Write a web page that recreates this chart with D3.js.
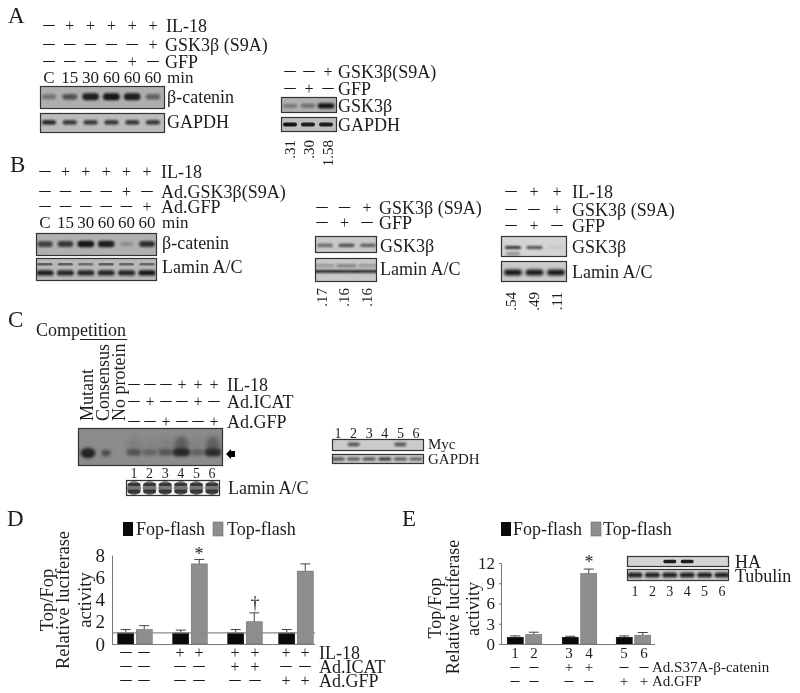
<!DOCTYPE html>
<html><head><meta charset="utf-8">
<script src="https://cdn.jsdelivr.net/npm/d3@7/dist/d3.min.js"></script>
<style>html,body{margin:0;padding:0;background:#fff}svg{display:block;filter:blur(.35px)}text{font-family:"Liberation Serif","Times New Roman",serif;fill:#1c1c1c}</style>
</head><body><svg id="fig" width="800" height="693"></svg>
<script>
// ---------- DATA ----------
const aIL18=[0,1,1,1,1,1], aGSK=[0,0,0,0,0,1], aGFP=[0,0,0,0,1,0];
const timeLabels=["C","15","30","60","60","60"];
const aCatenin=[.4,.6,.95,1,.95,.5], aGapdh=[.95,.85,.85,.85,.85,.85];
const a2GSKsign=[0,0,1], a2GFPsign=[0,1,0];
const a2GSK=[.4,.45,1], a2Gapdh=[1,.95,.95], a2Ratio=[".31",".30","1.58"];
const bIL18=[0,1,1,1,1,1], bGSK=[0,0,0,0,1,0], bGFP=[0,0,0,0,0,1];
const bCatenin=[.7,.75,1,.95,.2,.8], bLaminUp=[.55,.55,.45,.55,.5,.5], bLaminLow=[.95,.9,.9,.9,.9,1];
const b2GSKsign=[0,0,1], b2GFPsign=[0,1,0];
const b2GSK=[.55,.7,.6], b2LaminUp=[.3,.45,.3], b2LaminLow=[.95,.95,.95], b2Ratio=[".17",".16",".16"];
const b3IL18=[0,1,1], b3GSKsign=[0,0,1], b3GFPsign=[0,1,0];
const b3GSK=[.85,.7,.06], b3GSKlow=[.4,0,0], b3Lamin=[1,1,1], b3Ratio=[".54",".49",".11"];
const compLabels=["Mutant","Consensus","No protein"];
const cIL18=[0,0,0,1,1,1], cICAT=[0,1,0,0,1,0], cGFP=[0,0,1,0,0,1];
const cCompShift=[.95,.6,0], cShift=[.55,.4,.5,1,.4,.95], cLamin=[.7,.7,.7,.7,.7,.7];
const laneNumbers=["1","2","3","4","5","6"];
const mycBand=[0,.65,0,0,.65,0], mycGapdh=[.7,.65,.7,.85,.65,.6];
const seriesNames=["Fop-flash","Top-flash"];
const dFop=[1,1,1,1], dTop=[1.3,7.2,2,6.55], dFopErr=[.3,.25,.3,.3], dTopErr=[.35,.4,.8,.65];
const dTicks=[0,2,4,6,8];
const dIL18=[0,0,1,1,1,1,1,1], dICAT=[0,0,0,0,1,1,0,0], dGFP=[0,0,0,0,0,0,1,1];
const eFop=[1,1,1], eTop=[1.4,10.45,1.3], eFopErr=[.2,.15,.2], eTopErr=[.35,.65,.4];
const eTicks=[0,3,6,9,12];
const eS37A=[0,0,1,1,0,0], eGFP=[0,0,0,0,1,1];
const eHA=[0,0,.95,.95,0,0], eTubulin=[.95,.95,.95,.95,.95,.95];
const panelLetters=["A","B","C","D","E"];

// ---------- HELPERS ----------
const svg=d3.select("#fig"), defs=svg.append("defs");
let clipId=0; const blurs=new Set();
function blurFilter(b){const id="blur"+String(b).replace(".","_");
  if(!blurs.has(b)){blurs.add(b);
    defs.append("filter").attr("id",id).attr("x","-50%").attr("y","-80%").attr("width","200%").attr("height","260%")
      .append("feGaussianBlur").attr("stdDeviation",b);}
  return "url(#"+id+")";}
function txt(x,y,s,size=18,opt={}){
  const e=svg.append("text").attr("x",x).attr("y",y).attr("dy",opt.dy??"0.33em").attr("font-size",size).text(s);
  if(opt.anchor)e.attr("text-anchor",opt.anchor);
  if(opt.rot)e.attr("transform",`rotate(-90 ${x} ${y})`);
  return e;}
const lane=(n,a,b)=>d3.scalePoint().domain(d3.range(n)).range([a,b]);
function cellRow(x,vals,y,size,fmt){
  svg.append("g").selectAll("text").data(vals).join("text")
    .attr("x",(d,i)=>x(i)).attr("y",y).attr("dy","0.33em").attr("text-anchor","middle")
    .attr("font-size",size).text(fmt);}
function signRow(x,vals,y,label,lx,size=18){
  const dash=size>=18?11:8.5, plus=size>=18?16:15;
  svg.append("g").selectAll("text").data(vals).join("text")
    .attr("x",(d,i)=>x(i)).attr("y",y).attr("dy",d=>d?"0.33em":"0.2em").attr("text-anchor","middle")
    .attr("font-size",d=>d?plus:dash)
    .attr("stroke",d=>d?"none":"#1c1c1c").attr("stroke-width",.35)
    .text(d=>d?"+":"\u2014");
  if(label)txt(lx,y,label,size);}
function ratios(x,vals,y,size=15){
  svg.append("g").selectAll("text").data(vals).join("text")
    .attr("transform",(d,i)=>`translate(${x(i)},${y}) rotate(-90)`)
    .attr("dy","0.33em").attr("text-anchor","end").attr("font-size",size).text(d=>d);}
function blot(b,x,rows){
  const id="clip"+(clipId++);
  defs.append("clipPath").attr("id",id).append("rect").attr("x",b.x).attr("y",b.y).attr("width",b.w).attr("height",b.h);
  const g=svg.append("g");
  g.append("rect").attr("x",b.x).attr("y",b.y).attr("width",b.w).attr("height",b.h).attr("fill",b.bg);
  const inner=g.append("g").attr("clip-path",`url(#${id})`);
  rows.forEach(r=>{
    const W=d=>r.rx*(r.grow?0.75+0.3*d:1), H=d=>r.ry*(r.grow?0.6+0.5*d:1);
    inner.append("g").attr("filter",blurFilter(r.blur??1.2)).selectAll("rect").data(r.vals).join("rect")
      .attr("x",(d,i)=>x(i)+(r.dx??0)-W(d)).attr("y",d=>b.y+b.h*r.at-H(d))
      .attr("width",d=>2*W(d)).attr("height",d=>2*H(d))
      .attr("rx",d=>Math.min(W(d),H(d))).attr("ry",d=>H(d))
      .attr("fill",r.color??"#141414").attr("opacity",d=>d);
  });
  g.append("rect").attr("x",b.x+.5).attr("y",b.y+.5).attr("width",b.w-1).attr("height",b.h-1)
    .attr("fill","none").attr("stroke",b.stroke??"#333").attr("stroke-width",1.2);
}
function barChart(c){
  const y=d3.scaleLinear().domain(c.domain).range([c.y0,c.y1]);
  const g=svg.append("g");
  const xOf=(gi,s)=>c.centers(gi)+(s?1:-1)*(c.bw/2+c.gap/2);
  [[c.fop,c.fopErr,0,"#0a0a0a","#0a0a0a"],[c.top,c.topErr,1,"#8e8e8e","#6c6c6c"]].forEach(([v,e,s,fill,stroke])=>{
    const rows=v.map((d,i)=>({d,e:e[i],i}));
    const gs=g.append("g").selectAll("g").data(rows).join("g");
    gs.append("line").attr("x1",r=>xOf(r.i,s)).attr("x2",r=>xOf(r.i,s)).attr("y1",r=>y(r.d)).attr("y2",r=>y(r.d+r.e)).attr("stroke","#444");
    gs.append("line").attr("x1",r=>xOf(r.i,s)-5).attr("x2",r=>xOf(r.i,s)+5).attr("y1",r=>y(r.d+r.e)).attr("y2",r=>y(r.d+r.e)).attr("stroke","#444");
    gs.append("rect").attr("x",r=>xOf(r.i,s)-c.bw/2).attr("width",c.bw).attr("y",r=>y(r.d)).attr("height",r=>y(0)-y(r.d))
      .attr("fill",fill).attr("stroke",stroke).attr("stroke-width",.6);
  });
  if(c.refLine){g.append("line").attr("x1",c.x0).attr("x2",c.x1).attr("y1",y(1)).attr("y2",y(1)).attr("stroke","#8a8a8a").attr("stroke-width",1.3);}
  const ax=g.append("g").attr("transform",`translate(${c.x0},0)`).call(d3.axisLeft(y).tickValues(c.ticks).tickSize(c.tick).tickFormat(d3.format("d")));
  ax.selectAll("path,line").attr("stroke","#777");
  ax.selectAll("text").attr("font-size",c.tickFont).attr("x",c.tickX).attr("fill","#1c1c1c").attr("font-family","Liberation Serif");
  g.append("line").attr("x1",c.x0).attr("x2",c.x1).attr("y1",y(0)+.5).attr("y2",y(0)+.5).attr("stroke","#777");
  return {y,xOf};
}
function legend(bx1,tx1,bx2,tx2,yc,size=18){
  svg.append("rect").attr("x",bx1).attr("y",yc-7).attr("width",10).attr("height",14).attr("fill","#0a0a0a");
  txt(tx1,yc,seriesNames[0],size);
  svg.append("rect").attr("x",bx2).attr("y",yc-7).attr("width",10).attr("height",14).attr("fill","#8e8e8e").attr("stroke","#6c6c6c").attr("stroke-width",.6);
  txt(tx2,yc,seriesNames[1],size);
}

// ---------- PANEL LETTERS ----------
[[8,23],[10,172],[8,327],[7,526],[402,526]].forEach((p,i)=>txt(p[0],p[1],panelLetters[i],23,{dy:0}));

// ---------- A ----------
let x=lane(6,49,153);
signRow(x,aIL18,26,"IL-18",166);
signRow(x,aGSK,45,"GSK3\u03B2 (S9A)",165);
signRow(x,aGFP,62,"GFP",165);
cellRow(x,timeLabels,77,17,d=>d); txt(167,77,"min",17);
blot({x:40,y:86,w:125,h:23,bg:"#aeaeae"},x,[{vals:aCatenin,at:.47,rx:8,ry:3.2,grow:1,blur:1.2}]);
blot({x:40,y:113,w:125,h:20,bg:"#bcbcbc"},x,[{vals:aGapdh,at:.47,rx:7,ry:2.2,blur:.8}]);
txt(167,97,"\u03B2-catenin",18); txt(167,122,"GAPDH",18);
x=lane(3,290,328);
signRow(x,a2GSKsign,72,"GSK3\u03B2(S9A)",338);
signRow(x,a2GFPsign,89,"GFP",338);
const xa2=lane(3,290,326);
blot({x:281,y:97,w:56,h:16,bg:"#b0b0b0"},xa2,[{vals:a2GSK,at:.55,rx:8,ry:2.4,grow:1,blur:1}]);
blot({x:281,y:117,w:56,h:15,bg:"#bcbcbc"},xa2,[{vals:a2Gapdh,at:.5,rx:7,ry:2,blur:.7}]);
txt(338,106,"GSK3\u03B2",18); txt(338,125,"GAPDH",18);
ratios(x,a2Ratio,140);

// ---------- B ----------
x=lane(6,45,147);
signRow(x,bIL18,172,"IL-18",161);
signRow(x,bGSK,192,"Ad.GSK3\u03B2(S9A)",161);
signRow(x,bGFP,207,"Ad.GFP",161);
cellRow(x,timeLabels,222,17,d=>d); txt(162,222,"min",17);
blot({x:36,y:233,w:121,h:23,bg:"#b0b0b0"},x,[{vals:bCatenin,at:.48,rx:8,ry:3,grow:1,blur:1.2}]);
blot({x:36,y:258,w:121,h:23,bg:"#b8b8b8"},x,[{vals:bLaminUp,at:.27,rx:7.5,ry:1.3,blur:.7},{vals:bLaminLow,at:.65,rx:8.5,ry:2.6,blur:.9}]);
txt(162,243,"\u03B2-catenin",18); txt(162,267,"Lamin A/C",18);
x=lane(3,322,367);
signRow(x,b2GSKsign,208,"GSK3\u03B2 (S9A)",379);
signRow(x,b2GFPsign,223,"GFP",379);
const xb2=lane(3,325,368);
blot({x:315,y:236,w:62,h:17,bg:"#c9c9c9"},xb2,[{vals:b2GSK,at:.55,rx:8,ry:1.6,blur:1}]);
blot({x:315,y:258,w:62,h:24,bg:"#c8c8c8"},xb2,[{vals:b2LaminUp,at:.32,rx:10,ry:1.5,blur:1.2},{vals:b2LaminLow,at:.56,rx:12,ry:1.4,blur:.8}]);
txt(380,246,"GSK3\u03B2",18); txt(380,269,"Lamin A/C",18);
ratios(x,b2Ratio,288);
x=lane(3,511,557);
signRow(x,b3IL18,192,"IL-18",572);
signRow(x,b3GSKsign,210,"GSK3\u03B2 (S9A)",572);
signRow(x,b3GFPsign,226,"GFP",572);
const xb3=lane(3,513,556);
blot({x:501,y:236,w:66,h:21,bg:"#d4d4d4"},xb3,[{vals:b3GSK,at:.55,rx:8,ry:1.5,blur:1},{vals:b3GSKlow,at:.85,rx:7,ry:1.5,blur:1}]);
blot({x:501,y:261,w:66,h:21,bg:"#cacaca"},xb3,[{vals:b3Lamin,at:.55,rx:9,ry:3,blur:1.4}]);
txt(572,247,"GSK3\u03B2",18); txt(572,272,"Lamin A/C",18);
ratios(x,b3Ratio,292);

// ---------- C ----------
txt(36,336,"Competition",18,{dy:0});
svg.append("line").attr("x1",80).attr("x2",127).attr("y1",339.5).attr("y2",339.5).attr("stroke","#222");
const xc0=lane(3,87,119);
svg.append("g").selectAll("text").data(compLabels).join("text")
  .attr("transform",(d,i)=>`translate(${xc0(i)},421) rotate(-90)`).attr("dy","0.33em").attr("font-size",18).text(d=>d);
x=lane(6,134,214);
signRow(x,cIL18,385,"IL-18",227);
signRow(x,cICAT,402,"Ad.ICAT",227);
signRow(x,cGFP,422,"Ad.GFP",227);
const gelB={x:78,y:428,w:145,h:38,bg:"#8c8c8c"};
const xcShift=lane(6,134,213);
blot(gelB,xcShift,[
  {vals:cShift.map(d=>d>.9?d*.5:d*.25),at:.45,rx:7,ry:9,blur:2.5,color:"#2a2a2a"},
  {vals:cShift,at:.64,rx:8,ry:3.6,grow:1,blur:1.6,color:"#262626"}]);
const xc1=lane(3,88,124);
const compG=svg.append("g").attr("filter",blurFilter(1.8));
compG.selectAll("ellipse").data(cCompShift).join("ellipse")
  .attr("cx",(d,i)=>xc1(i)).attr("cy",453).attr("rx",d=>8*d).attr("ry",d=>5.5*d).attr("fill","#202020").attr("opacity",d=>d);
svg.append("path").attr("d",d3.line()([[226,454],[231,449],[231,451],[235,451],[235,457],[231,457],[231,459]])+"Z").attr("fill","#000");
const xcn=lane(6,134,212);
cellRow(xcn,laneNumbers,473,14,d=>d);
blot({x:126,y:480,w:94,h:16,bg:"#f2f2f2"},xcn,[
  {vals:cLamin,at:.5,rx:7,ry:7,blur:.4,color:"#444"},
  {vals:cLamin,at:.28,rx:6.5,ry:1.5,blur:.7,color:"#1a1a1a"},
  {vals:cLamin,at:.72,rx:6.5,ry:2,blur:.7,color:"#1a1a1a"}]);
txt(228,488,"Lamin A/C",18);

// ---------- Myc ----------
x=lane(6,338,416);
cellRow(x,laneNumbers,433,14,d=>d);
blot({x:332,y:439,w:92,h:12,bg:"#cbcbcb"},x,[{vals:mycBand,at:.45,rx:6,ry:1.8,blur:1}]);
blot({x:332,y:454,w:92,h:10,bg:"#c8c8c8"},x,[{vals:mycGapdh,at:.5,rx:6.5,ry:1.6,blur:.9}]);
txt(428,444,"Myc",15); txt(428,459,"GAPDH",15);

// ---------- D ----------
legend(123,136,213,227,529);
const dc=d3.scaleOrdinal([0,1,2,3],[135,190,245,296]);
barChart({domain:[0,8],y0:644,y1:555,x0:112,x1:315,fop:dFop,top:dTop,fopErr:dFopErr,topErr:dTopErr,centers:dc,bw:16,gap:2.5,ticks:dTicks,tick:0,tickFont:19,tickX:-7,refLine:true});
[[47,"Top/Fop"],[63,"Relative luciferase"],[85,"activity"]].forEach(p=>txt(p[0],600,p[1],18.5,{rot:1,anchor:"middle"}));
txt(199,554,"*",18,{anchor:"middle"}); txt(255,603,"\u2020",18,{anchor:"middle"});
const xd=d3.scaleOrdinal(d3.range(8),[126,144,180,199,235,255,286,305]);
signRow(xd,dIL18,653,"IL-18",319);
signRow(xd,dICAT,667,"Ad.ICAT",319);
signRow(xd,dGFP,681,"Ad.GFP",319);

// ---------- E ----------
legend(501,513,591,603,529);
const ec=d3.scaleOrdinal([0,1,2],[524.5,579.5,633.5]);
barChart({domain:[0,12],y0:644,y1:563,x0:501,x1:655,fop:eFop,top:eTop,fopErr:eFopErr,topErr:eTopErr,centers:ec,bw:16,gap:2.5,ticks:eTicks,tick:2,tickFont:17,tickX:-6});
[[435,608,"Top/Fop"],[453,607,"Relative luciferase"],[473,609,"activity"]].forEach(p=>txt(p[0],p[1],p[2],18,{rot:1,anchor:"middle"}));
txt(589,562,"*",18,{anchor:"middle"});
const xe=d3.scaleOrdinal(d3.range(6),[515,534,569,589,624,644]);
cellRow(xe,laneNumbers,653,15,d=>d);
signRow(xe,eS37A,667,"Ad.S37A-\u03B2-catenin",652,15);
signRow(xe,eGFP,681,"Ad.GFP",652,15);
const xi=lane(6,635,722);
blot({x:627,y:556,w:102,h:11,bg:"#d4d4d4"},xi,[{vals:eHA,at:.5,rx:6.5,ry:1.7,blur:.6}]);
blot({x:627,y:569,w:102,h:12,bg:"#cdcdcd"},xi,[{vals:eTubulin,at:.5,rx:7.5,ry:2.6,blur:.9}]);
txt(735,562,"HA",18); txt(735,576,"Tubulin",18);
cellRow(xi,laneNumbers,591,14,d=>d);
</script></body></html>
